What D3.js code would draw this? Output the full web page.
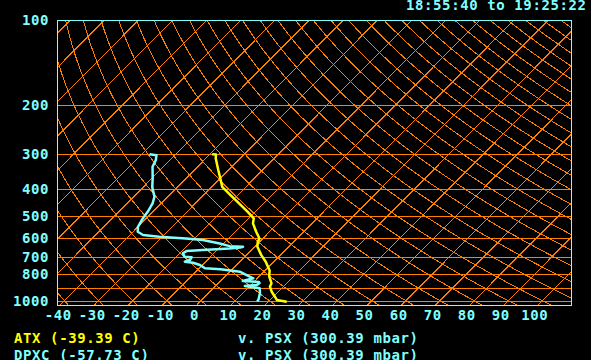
<!DOCTYPE html>
<html>
<head>
<meta charset="utf-8">
<script src="https://cdn.jsdelivr.net/npm/d3@7"></script>
<style>
  html, body { margin: 0; padding: 0; background: #000; }
  svg { display: block; }
  text { font-family: "DejaVu Sans Mono", "Liberation Mono", monospace; font-weight: bold; font-size: 14px; letter-spacing: 0.6px; }
</style>
</head>
<body>
<svg id="chart" width="591" height="360"></svg>
<script>
// ---------------- data ----------------
const pressureTicks = [100, 200, 300, 400, 500, 600, 700, 800, 1000];
const isobars = [200, 300, 400, 500, 600, 700, 800, 900, 1000];
const tempTicks = [-40, -30, -20, -10, 0, 10, 20, 30, 40, 50, 60, 70, 80, 90, 100];
const isotherms = d3.range(-160, 120, 10);
const adiabats = d3.range(-50, 330, 10);   // potential temperature, deg C

// air temperature profile (ATX)
const tempP = [300.39, 301, 311, 342, 366, 393, 415, 444, 482, 509, 530, 568, 600, 617, 642, 688, 726, 782, 810, 821, 867, 891, 929, 968, 994, 1008];
const tempT = [-39.39, -38.2, -37.1, -33.0, -30.0, -26.9, -23.0, -18.1, -12.2, -8.5, -7.3, -3.9, -1.0, -0.5, 0.8, 4.4, 7.6, 11.4, 12.5, 13.0, 15.6, 16.1, 18.1, 20.5, 22.0, 25.4];

// dew point profile (DPXC)
const dewP = [300.39, 303, 315, 333, 366, 393, 426, 450, 482, 509, 545, 568, 583, 592, 600, 608, 625, 639, 642, 646, 651, 660, 665, 678, 697, 700, 716, 726, 732, 746, 766, 772, 777, 782, 788, 810, 832, 851, 858, 865, 879, 887, 903, 941, 994, 1005];
const dewT = [-57.73, -55.4, -54.2, -53.2, -49.8, -47.4, -43.9, -42.5, -41.5, -41.0, -40.0, -38.6, -36.1, -30.8, -22.5, -17.1, -11.2, -7.5, -3.4, -4.0, -6.9, -14.2, -18.7, -19.1, -17.6, -15.4, -15.1, -16.1, -13.4, -10.7, -8.3, -3.5, -1.5, 0.5, 2.9, 5.9, 8.8, 6.5, 11.5, 12.0, 11.8, 8.6, 13.6, 15.1, 16.6, 16.6];

const headerText = "18:55:40 to 19:25:22";
const legendRows = [
  { name: "ATX (-39.39 C)", color: "#ffff00", ref: "v. PSX (300.39 mbar)" },
  { name: "DPXC (-57.73 C)", color: "#80ffff", ref: "v. PSX (300.39 mbar)" }
];

// ---------------- layout ----------------
const CYAN = "#80ffff", ORANGE = "#ff8000", YELLOW = "#ffff00";
const frame = { left: 57.5, top: 20.5, right: 571.5, bottom: 305.5 };
const skew = 0.994;
const kappa = 0.2857;

const svg = d3.select("#chart");
svg.append("rect").attr("width", 591).attr("height", 360).attr("fill", "#000");

const y = d3.scaleLog().domain([100, 1000]).range([20.2, 300.7]);
const xT = d3.scaleLinear().domain([0, 10]).range([201, 235.14]);   // at 1000 mbar
const xLab = d3.scaleLinear().domain([-40, 100]).range([58.3, 534.8]);
const pBottom = y.invert(frame.bottom);

const px = (T, p) => xT(T) + skew * (y(1000) - y(p));

svg.append("clipPath").attr("id", "clip")
  .append("rect")
  .attr("x", frame.left).attr("y", frame.top)
  .attr("width", frame.right - frame.left).attr("height", frame.bottom - frame.top);

const line = d3.line().x(d => px(d.T, d.p)).y(d => y(d.p));

const grid = svg.append("g").attr("clip-path", "url(#clip)")
  .attr("fill", "none").attr("stroke", ORANGE).attr("stroke-width", 1)
  .attr("shape-rendering", "crispEdges");

// isotherms
grid.selectAll("path.iso").data(isotherms).join("path")
  .attr("class", "iso")
  .attr("d", T => line([{ T, p: pBottom + 20 }, { T, p: 90 }]));

// dry adiabats
const pSamples = d3.range(0, 61).map(i => 90 * Math.pow((pBottom + 20) / 90, i / 60));
grid.selectAll("path.adi").data(adiabats).join("path")
  .attr("class", "adi")
  .attr("d", th => line(pSamples.map(p => ({ p, T: (th + 273.15) * Math.pow(p / 1000, kappa) - 273.15 }))));

// isobars
grid.selectAll("rect.isobar").data(isobars).join("rect")
  .attr("class", "isobar")
  .attr("x", frame.left).attr("width", frame.right - frame.left)
  .attr("y", d => Math.round(y(d))).attr("height", 1)
  .attr("stroke", "none").attr("fill", ORANGE);

// profiles
const traces = svg.append("g").attr("clip-path", "url(#clip)").attr("fill", "none")
  .attr("stroke-width", 2.5).attr("stroke-linejoin", "round");
traces.append("path")
  .attr("stroke", CYAN)
  .attr("d", line(dewP.map((p, i) => ({ p, T: dewT[i] }))));
traces.append("path")
  .attr("stroke", YELLOW)
  .attr("d", line(tempP.map((p, i) => ({ p, T: tempT[i] }))));

// frame
svg.append("rect")
  .attr("x", frame.left).attr("y", frame.top)
  .attr("width", frame.right - frame.left).attr("height", frame.bottom - frame.top)
  .attr("fill", "none").attr("stroke", CYAN).attr("stroke-width", 1)
  .attr("shape-rendering", "crispEdges");

// pressure labels
svg.append("g").selectAll("text").data(pressureTicks).join("text")
  .attr("x", 49).attr("y", d => y(d) + 5)
  .attr("text-anchor", "end").attr("fill", CYAN)
  .text(d => d3.format("d")(d));

// temperature labels
svg.append("g").selectAll("text").data(tempTicks).join("text")
  .attr("x", d => xLab(d)).attr("y", 319.5)
  .attr("text-anchor", "middle").attr("fill", CYAN)
  .text(d => String(d));

// header
svg.append("text").attr("x", 406).attr("y", 10).attr("fill", CYAN).text(headerText);

// legend
const leg = svg.append("g").selectAll("g").data(legendRows).join("g")
  .attr("transform", (d, i) => `translate(0, ${343 + i * 17})`);
leg.append("text").attr("x", 14).attr("fill", d => d.color).text(d => d.name);
leg.append("text").attr("x", 238).attr("fill", CYAN).text(d => d.ref);
</script>
</body>
</html>
